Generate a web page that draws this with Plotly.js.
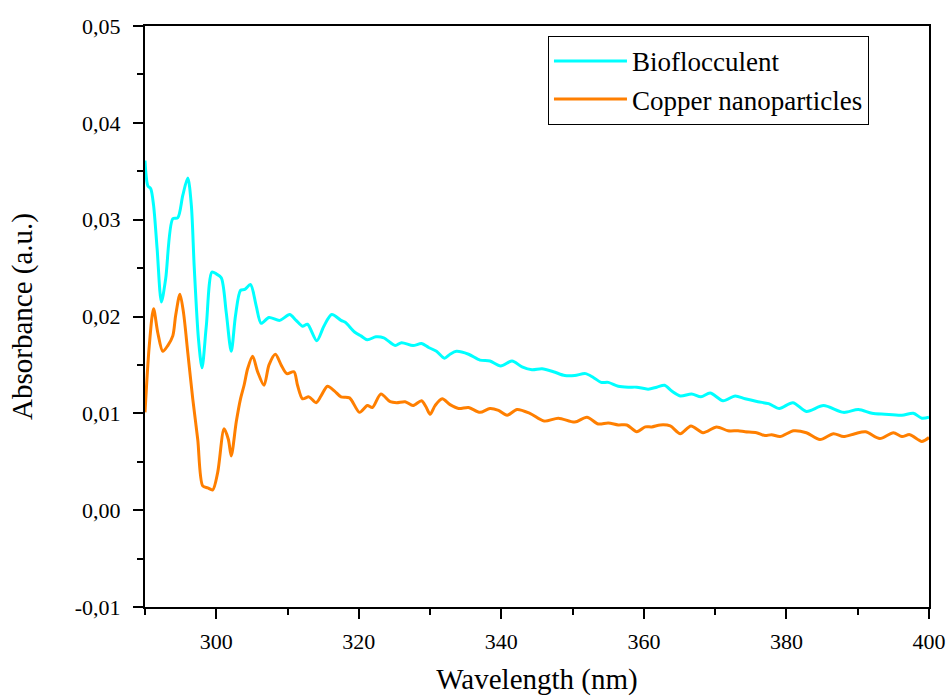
<!DOCTYPE html>
<html>
<head>
<meta charset="utf-8">
<script src="https://cdn.plot.ly/plotly-3.0.1.min.js"></script>
<style>html,body{margin:0;padding:0;background:#fff;}#chart{width:948px;height:696px;}</style>
</head>
<body>
<div id="chart"></div>
<script>
// Bioflocculent series (wavelength nm, absorbance a.u.)
var bioWavelength = [290.0,290.4,290.8,291.2,291.7,292.3,292.9,293.9,294.6,295.3,296.0,296.5,296.9,297.5,298.0,298.6,299.4,300.0,300.7,301.4,302.1,302.7,303.4,304.0,304.8,305.6,306.3,307.4,308.9,310.3,311.2,312.1,312.8,314.1,315.1,316.2,317.5,318.1,319.4,320.3,321.2,322.4,323.5,325.1,326.0,327.6,328.8,329.8,330.9,332.0,332.8,333.7,335.4,337.0,338.4,339.9,341.5,342.9,344.3,345.7,347.3,348.9,350.3,351.8,352.9,354.0,355.0,356.4,357.8,359.0,360.6,361.8,362.9,363.9,365.1,366.7,368.0,369.3,371.1,372.8,374.2,376.0,377.5,379.0,380.9,382.8,385.2,388.0,390.1,392.0,393.8,396.2,397.8,399.0,400.0];
var bioAbsorbance = [0.0361,0.0335,0.0332,0.0315,0.0270,0.0215,0.0239,0.0301,0.0302,0.0325,0.0343,0.0315,0.0252,0.0177,0.0147,0.0190,0.0246,0.0244,0.0240,0.0204,0.0164,0.0201,0.0227,0.0228,0.0233,0.0211,0.0193,0.0199,0.0196,0.0202,0.0196,0.0190,0.0192,0.0175,0.0190,0.0202,0.0196,0.0194,0.0184,0.0180,0.0176,0.0179,0.0178,0.0170,0.0173,0.0170,0.0172,0.0168,0.0164,0.0157,0.0161,0.0164,0.0161,0.0155,0.0154,0.0149,0.0154,0.0148,0.0145,0.0146,0.0143,0.0139,0.0139,0.0141,0.0137,0.0132,0.0132,0.0128,0.0127,0.0127,0.0125,0.0127,0.0129,0.0123,0.0118,0.0120,0.0117,0.0121,0.0113,0.0118,0.0115,0.0112,0.0110,0.0105,0.0111,0.0102,0.0108,0.0101,0.0104,0.0100,0.0099,0.0098,0.0100,0.0095,0.0096];

// Copper nanoparticles series
var cuWavelength = [290.0,290.6,291.2,291.8,292.5,293.2,293.9,294.3,294.9,295.4,296.0,296.7,297.4,298.1,298.8,299.5,300.2,301.1,301.7,302.1,302.8,303.4,303.9,304.4,305.1,305.8,306.7,307.4,308.3,309.1,309.9,310.9,311.4,312.1,313.0,314.0,314.7,315.6,316.6,317.5,318.7,320.1,321.2,321.9,323.1,324.4,325.3,326.5,327.6,328.8,329.4,330.0,330.7,331.7,332.8,334.0,335.4,337.0,338.4,339.6,340.8,342.2,344.0,346.0,348.0,350.3,352.0,353.6,355.0,356.4,357.6,359.0,360.2,361.1,362.3,363.7,365.1,366.6,368.3,370.2,371.8,373.2,374.2,375.8,377.0,377.9,379.1,381.0,382.8,384.7,386.6,388.0,389.6,391.1,393.1,395.0,396.2,397.3,399.0,400.0];
var cuAbsorbance = [0.0101,0.0170,0.0208,0.0183,0.0164,0.0170,0.0180,0.0201,0.0223,0.0204,0.0163,0.0115,0.0073,0.0025,0.0023,0.0021,0.0039,0.0084,0.0073,0.0056,0.0091,0.0115,0.0129,0.0146,0.0159,0.0143,0.0129,0.0150,0.0161,0.0150,0.0141,0.0143,0.0129,0.0115,0.0117,0.0111,0.0118,0.0128,0.0123,0.0117,0.0116,0.0101,0.0108,0.0106,0.0120,0.0112,0.0111,0.0112,0.0108,0.0113,0.0107,0.0099,0.0108,0.0115,0.0109,0.0105,0.0106,0.0101,0.0105,0.0103,0.0098,0.0104,0.0100,0.0092,0.0095,0.0091,0.0096,0.0089,0.0090,0.0088,0.0088,0.0081,0.0086,0.0086,0.0088,0.0087,0.0079,0.0087,0.0080,0.0086,0.0082,0.0082,0.0081,0.0080,0.0077,0.0078,0.0076,0.0082,0.0080,0.0073,0.0079,0.0076,0.0079,0.0081,0.0074,0.0080,0.0076,0.0078,0.0071,0.0075];

var seriesNames = ["Bioflocculent", "Copper nanoparticles"];
var xTickVals = [300, 320, 340, 360, 380, 400];
var xTickText = ["300", "320", "340", "360", "380", "400"];
var yTickVals = [-0.01, 0.00, 0.01, 0.02, 0.03, 0.04, 0.05];
var yTickText = ["-0,01", "0,00", "0,01", "0,02", "0,03", "0,04", "0,05"];

var font = "Liberation Serif";

var traces = [
  {x: bioWavelength, y: bioAbsorbance, name: seriesNames[0], type: "scatter", mode: "lines",
   line: {color: "#00FFFF", width: 3, shape: "spline", smoothing: 0.8}},
  {x: cuWavelength, y: cuAbsorbance, name: seriesNames[1], type: "scatter", mode: "lines",
   line: {color: "#FF7F00", width: 3, shape: "spline", smoothing: 0.8}}
];

var axisCommon = {
  showline: true, linecolor: "#000", linewidth: 2, mirror: true,
  ticks: "outside", ticklen: 10, tickwidth: 2, tickcolor: "#000",
  showgrid: false, zeroline: false,
  tickfont: {family: font, size: 22, color: "#000"}
};

var layout = {
  width: 948, height: 696,
  margin: {l: 145, r: 19, t: 26, b: 89},
  paper_bgcolor: "#fff", plot_bgcolor: "#fff",
  font: {family: font, color: "#000"},
  showlegend: true,
  legend: {
    x: 0.514, y: 0.983, xanchor: "left", yanchor: "top",
    bgcolor: "#fff", bordercolor: "#000", borderwidth: 1,
    font: {family: font, size: 27, color: "#000"},
    itemwidth: 73
  },
  xaxis: Object.assign({}, axisCommon, {
    range: [290, 400], tickvals: xTickVals, ticktext: xTickText,
    ticklabelstandoff: 4,
    minor: {dtick: 10, tick0: 290, ticks: "outside", ticklen: 6, tickwidth: 2, tickcolor: "#000", showgrid: false},
    title: {text: "Wavelength (nm)", font: {family: font, size: 29, color: "#000"}, standoff: 18}
  }),
  yaxis: Object.assign({}, axisCommon, {
    range: [-0.01, 0.05], tickvals: yTickVals, ticktext: yTickText,
    ticklabelstandoff: 8,
    minor: {dtick: 0.005, tick0: 0, ticks: "outside", ticklen: 6, tickwidth: 2, tickcolor: "#000", showgrid: false},
    title: {text: "Absorbance (a.u.)", font: {family: font, size: 29, color: "#000"}, standoff: 34}
  })
};

Plotly.newPlot("chart", traces, layout, {displayModeBar: false, staticPlot: true});
</script>
</body>
</html>
